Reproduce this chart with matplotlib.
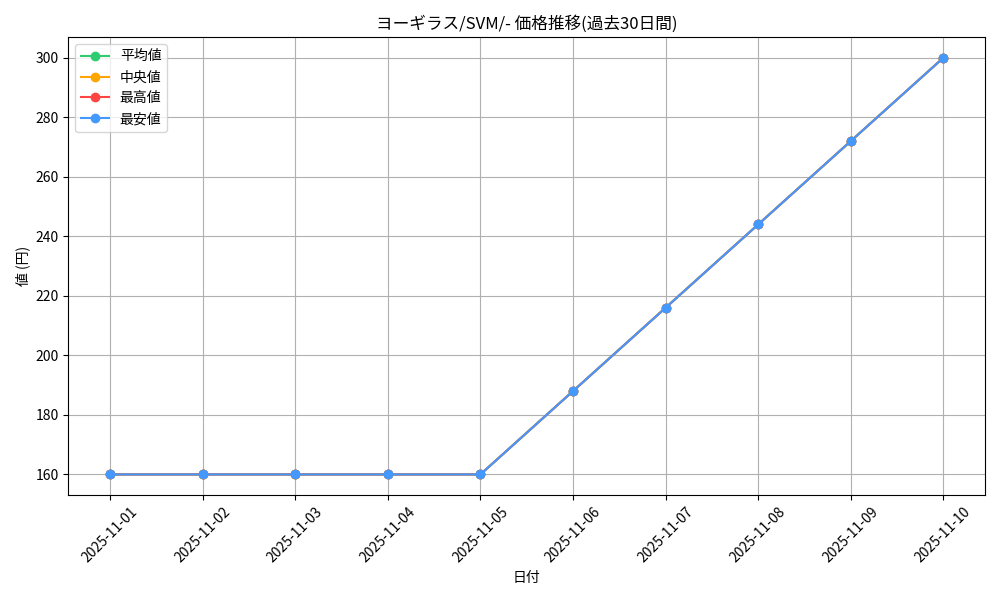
import matplotlib
matplotlib.use("Agg")
import matplotlib.pyplot as plt

plt.rcParams['font.family'] = ['Noto Sans CJK JP', 'DejaVu Sans']

# データ
dates = ["2025-11-01", "2025-11-02", "2025-11-03", "2025-11-04", "2025-11-05",
         "2025-11-06", "2025-11-07", "2025-11-08", "2025-11-09", "2025-11-10"]
avg_vals = [160, 160, 160, 160, 160, 188, 216, 244, 272, 300]
med_vals = [160, 160, 160, 160, 160, 188, 216, 244, 272, 300]
max_vals = [160, 160, 160, 160, 160, 188, 216, 244, 272, 300]
min_vals = [160, 160, 160, 160, 160, 188, 216, 244, 272, 300]

fig, ax = plt.subplots(figsize=(10, 6), dpi=100)

ax.plot(dates, avg_vals, marker='o', color='#2ecc71', label='平均値')
ax.plot(dates, med_vals, marker='o', color='#ffa500', label='中央値')
ax.plot(dates, max_vals, marker='o', color='#ff4444', label='最高値')
ax.plot(dates, min_vals, marker='o', color='#4499ff', label='最安値')

ax.set_title('ヨーギラス/SVM/- 価格推移(過去30日間)')
ax.set_xlabel('日付')
ax.set_ylabel('値 (円)')
ax.grid(True)
ax.legend(loc='upper left')
plt.xticks(rotation=45)
plt.tight_layout()
plt.savefig('out.png')
